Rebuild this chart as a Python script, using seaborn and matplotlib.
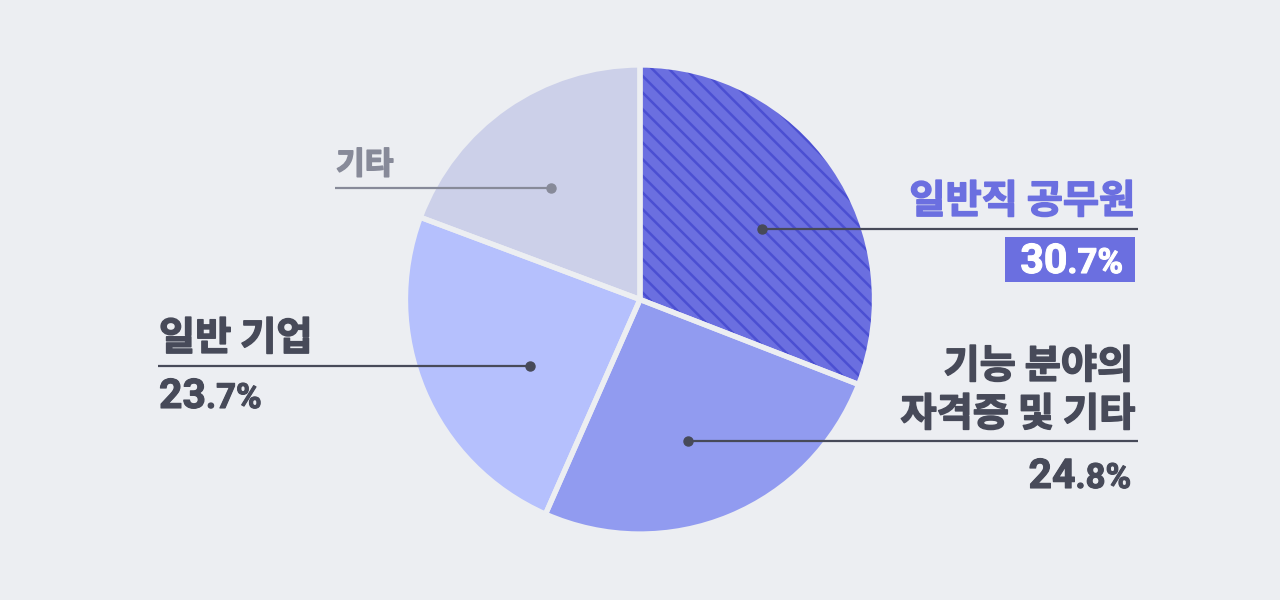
import matplotlib
matplotlib.use("Agg")
import matplotlib.pyplot as plt
from matplotlib.transforms import Affine2D
from matplotlib.lines import Line2D
from matplotlib.patches import Rectangle
import matplotlib.patheffects as pe
import seaborn as sns

# ---- data ----
categories = ["일반직 공무원", "기능 분야의\n자격증 및 기타", "일반 기업", "기타"]
# slice shares as drawn in the picture (percent of the full circle)
slice_shares = [30.9, 25.7, 24.1, 19.3]
# printed labels
pct_int = ["30", "24", "23", None]
pct_dec = [".7%", ".8%", ".7%", None]

BG = "#eceef2"
slice_colors = ["#6b6fe0", "#919bf0", "#b5c0fd", "#ccd0e9"]
HATCH_COLOR = "#4b4fd2"
DARK = "#474a59"
PURPLE = "#6b6fe0"
GREY = "#878a99"

sns.set_theme(style="white")
plt.rcParams["font.family"] = ["Noto Sans CJK KR", "DejaVu Sans"]
plt.rcParams["hatch.linewidth"] = 1.8

KFS = 28.3
KW = "bold"
BIG, SMALL = 29.5, 25
NUMFONT = ["Roboto", "DejaVu Sans"]

W, H = 1280, 600
fig = plt.figure(figsize=(W / 100, H / 100), dpi=100, facecolor=BG)
px = Affine2D().scale(1 / W, -1 / H).translate(0, 1) + fig.transFigure

cx, cy, R = 640, 299.5, 234.5
ax = fig.add_axes([(cx - R) / W, (H - cy - R) / H, 2 * R / W, 2 * R / H])
ax.set_facecolor(BG)
ax.axis("off")

pal = sns.color_palette(slice_colors)
wedges, _ = ax.pie(slice_shares, colors=pal, startangle=90, counterclock=False,
                   radius=1, wedgeprops=dict(linewidth=0, edgecolor=HATCH_COLOR))
wedges[0].set_hatch("\\\\")
ax.pie(slice_shares, colors=["none"] * 4, startangle=90, counterclock=False, radius=1,
       wedgeprops=dict(linewidth=3.8, edgecolor=BG, facecolor="none"))
ax.set_xlim(-1, 1)
ax.set_ylim(-1, 1)

renderer = fig.canvas.get_renderer()


def bold_fx(color, w=1.1):
    return [pe.withStroke(linewidth=w, foreground=color)]


def label(x, y, s, ha, color, size=KFS):
    fig.text(x, y, s, transform=px, ha=ha, va="baseline", fontsize=size,
             fontweight=KW, color=color, path_effects=bold_fx(color))


def leader(x0, x1, y, dot_x, color):
    fig.add_artist(Line2D([x0, x1], [y, y], transform=px, color=color, lw=1.6,
                          solid_capstyle="butt"))
    fig.add_artist(Line2D([dot_x], [y], transform=px, marker="o", markersize=6.5,
                          color=color, lw=0))


def pct(x, y, i, color, align):
    kw = dict(transform=px, va="baseline", fontweight="bold", color=color,
              family=NUMFONT, path_effects=bold_fx(color, 0.8))
    if align == "right":
        t2 = fig.text(x, y, pct_dec[i], ha="right", fontsize=SMALL, **kw)
        bb = t2.get_window_extent(renderer)
        fig.text(bb.x0, y, pct_int[i], ha="right", fontsize=BIG, **kw)
    else:
        t1 = fig.text(x, y, pct_int[i], ha="left", fontsize=BIG, **kw)
        bb = t1.get_window_extent(renderer)
        fig.text(bb.x1, y, pct_dec[i], ha="left", fontsize=SMALL, **kw)


# 일반직 공무원
label(1135, 213, categories[0], "right", PURPLE)
leader(762, 1138, 229, 762, DARK)
fig.add_artist(Rectangle((1005, 237), 130, 45, transform=px, color=PURPLE, lw=0))
pct(1123, 273, 0, "white", "right")

# 기능 분야의 자격증 및 기타
l1, l2 = categories[1].split("\n")
label(1133, 378, l1, "right", DARK)
label(1135, 426, l2, "right", DARK)
leader(688, 1138, 441, 688, DARK)
pct(1131, 488, 1, DARK, "right")

# 일반 기업
label(159, 350, categories[2], "left", DARK)
leader(158, 530, 366, 530, DARK)
pct(159, 408, 2, DARK, "left")

# 기타
label(336, 174, categories[3], "left", GREY, size=22.5)
leader(335, 551, 188, 551, GREY)

fig.savefig("out.png", dpi=100, facecolor=BG)
